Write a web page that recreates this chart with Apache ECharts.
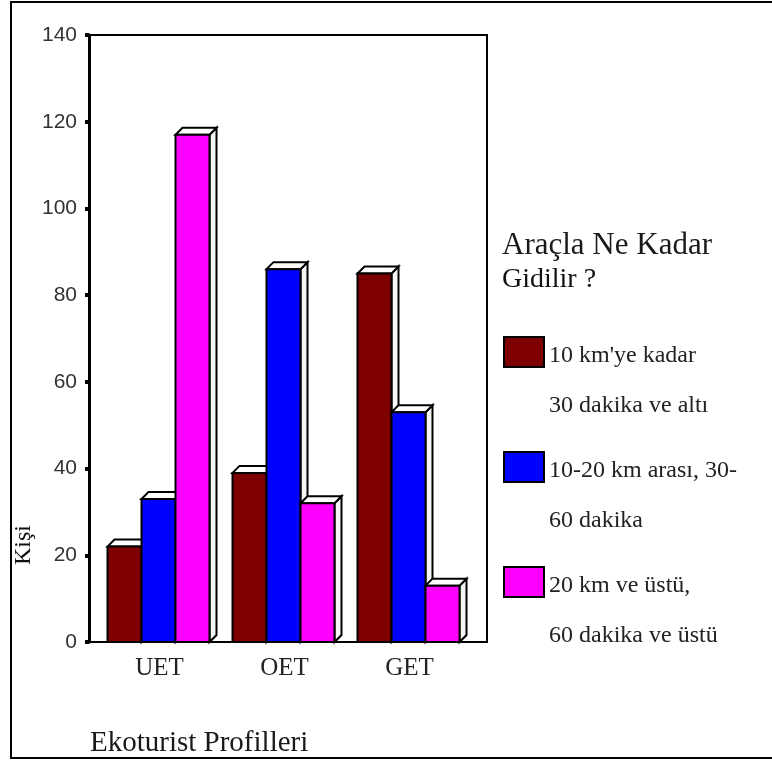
<!DOCTYPE html>
<html>
<head>
<meta charset="utf-8">
<title>Araçla Ne Kadar Gidilir ?</title>
<script src="https://cdn.jsdelivr.net/npm/echarts@6/dist/echarts.min.js"></script>
<style>
  html, body { margin: 0; padding: 0; background: #fff; }
  #chart { width: 772px; height: 760px; }
</style>
</head>
<body>
<div id="chart"></div>
<script>
// Ekoturist profiles on the x axis
const categories = ['UET', 'OET', 'GET'];

// Legend entries (two lines each)
const seriesNames = [
  "10 km'ye kadar\n30 dakika ve altı",
  '10-20 km arası, 30-\n60 dakika',
  '20 km ve üstü,\n60 dakika ve üstü'
];

// Number of people per profile for each distance group
const upTo10km = [22, 39, 85];
const from10to20km = [33, 86, 53];
const over20km = [117, 32, 13];

// Y axis ticks
const yTicks = [0, 20, 40, 60, 80, 100, 120, 140];

const colors = ['#7f0000', '#0000ff', '#ff00ff'];
const seriesValues = [upTo10km, from10to20km, over20km];
const serif = '"Liberation Serif", "Times New Roman", serif';
const sans = '"Liberation Sans", Arial, sans-serif';

// 3D-looking bar: coloured front face, white top and side faces
function renderBar(params, api) {
  const s = params.seriesIndex;
  const cat = api.value(0);
  const v = api.value(1);
  const base = api.coord([cat, 0]);
  const top = api.coord([cat, v]);
  const band = api.size([1, 0])[0];
  const bw = band * 0.272;
  const x0 = base[0] - 1.5 * bw + s * bw - 1;
  const d = 7;
  const edge = { stroke: '#000', lineWidth: 2 };
  return {
    type: 'group',
    children: [
      {
        type: 'polygon',
        shape: { points: [[x0 + bw, top[1]], [x0 + bw + d, top[1] - d], [x0 + bw + d, base[1] - d], [x0 + bw, base[1]]] },
        style: Object.assign({ fill: '#f6f6f6' }, edge)
      },
      {
        type: 'polygon',
        shape: { points: [[x0, top[1]], [x0 + d, top[1] - d], [x0 + bw + d, top[1] - d], [x0 + bw, top[1]]] },
        style: Object.assign({ fill: '#ffffff' }, edge)
      },
      {
        type: 'rect',
        shape: { x: x0, y: top[1], width: bw, height: base[1] - top[1] },
        style: Object.assign({ fill: colors[s] }, edge)
      }
    ]
  };
}

const series = seriesNames.map(function (name, i) {
  return {
    type: 'custom',
    name: name,
    renderItem: renderBar,
    itemStyle: { color: colors[i] },
    encode: { x: 0, y: 1 },
    data: seriesValues[i].map(function (v, c) { return [c, v]; }),
    clip: false
  };
});

const chart = echarts.init(document.getElementById('chart'), null, { renderer: 'canvas' });

chart.setOption({
  backgroundColor: '#fff',
  animation: false,
  title: {
    text: 'Araçla Ne Kadar',
    subtext: 'Gidilir ?',
    left: 502,
    top: 230,
    padding: 0,
    itemGap: 5,
    textStyle: { fontFamily: serif, fontSize: 31, fontWeight: 'normal', color: '#1a1a1a' },
    subtextStyle: { fontFamily: serif, fontSize: 28, color: '#111' }
  },
  legend: {
    orient: 'vertical',
    left: 503,
    top: 290,
    padding: 0,
    itemGap: -13,
    itemWidth: 40,
    itemHeight: 30,
    icon: 'rect',
    selectedMode: false,
    data: seriesNames,
    itemStyle: { borderColor: '#000', borderWidth: 2 },
    // a taller blank first line keeps the first text line level with the swatch
    formatter: function (name) {
      const lines = name.split('\n');
      return '{gap| }\n{t|' + lines[0] + '}\n{t|' + lines[1] + '}';
    },
    textStyle: {
      fontFamily: serif,
      fontSize: 24,
      color: '#222',
      rich: {
        gap: { lineHeight: 58, fontSize: 24 },
        t: { lineHeight: 50, fontSize: 24, fontFamily: serif, color: '#222' }
      }
    }
  },
  grid: {
    left: 97,
    width: 375,
    top: 35,
    height: 607,
    containLabel: false
  },
  xAxis: {
    type: 'category',
    data: categories,
    axisLine: { lineStyle: { color: '#000', width: 2 } },
    axisTick: { alignWithLabel: true, length: 5, lineStyle: { color: '#000', width: 4 } },
    axisLabel: { fontFamily: serif, fontSize: 25, color: '#222', margin: 14 },
    splitLine: { show: false }
  },
  yAxis: {
    type: 'value',
    min: yTicks[0],
    max: yTicks[yTicks.length - 1],
    interval: yTicks[1] - yTicks[0],
    offset: 8,
    axisLine: { show: true, lineStyle: { color: '#000', width: 3 } },
    axisTick: { show: true, length: 4, lineStyle: { color: '#000', width: 4 } },
    axisLabel: { fontFamily: sans, fontSize: 21, color: '#333', margin: 12 },
    splitLine: { show: false }
  },
  graphic: [
    {
      type: 'rect',
      silent: true,
      shape: { x: 11, y: 2, width: 780, height: 756 },
      style: { fill: 'none', stroke: '#000', lineWidth: 2 },
      z: -1
    },
    {
      type: 'rect',
      silent: true,
      shape: { x: 89, y: 35, width: 398, height: 607 },
      style: { fill: 'none', stroke: '#000', lineWidth: 2 },
      z: -1
    },
    {
      type: 'text',
      silent: true,
      x: 24,
      y: 545,
      rotation: Math.PI / 2,
      style: {
        text: 'Kişi',
        fontFamily: serif,
        fontSize: 24,
        fill: '#111',
        align: 'center',
        verticalAlign: 'middle'
      }
    },
    {
      type: 'text',
      silent: true,
      x: 90,
      y: 743,
      style: {
        text: 'Ekoturist Profilleri',
        fontFamily: serif,
        fontSize: 29,
        fill: '#1a1a1a',
        align: 'left',
        verticalAlign: 'middle'
      }
    }
  ],
  series: series
});
</script>
</body>
</html>
